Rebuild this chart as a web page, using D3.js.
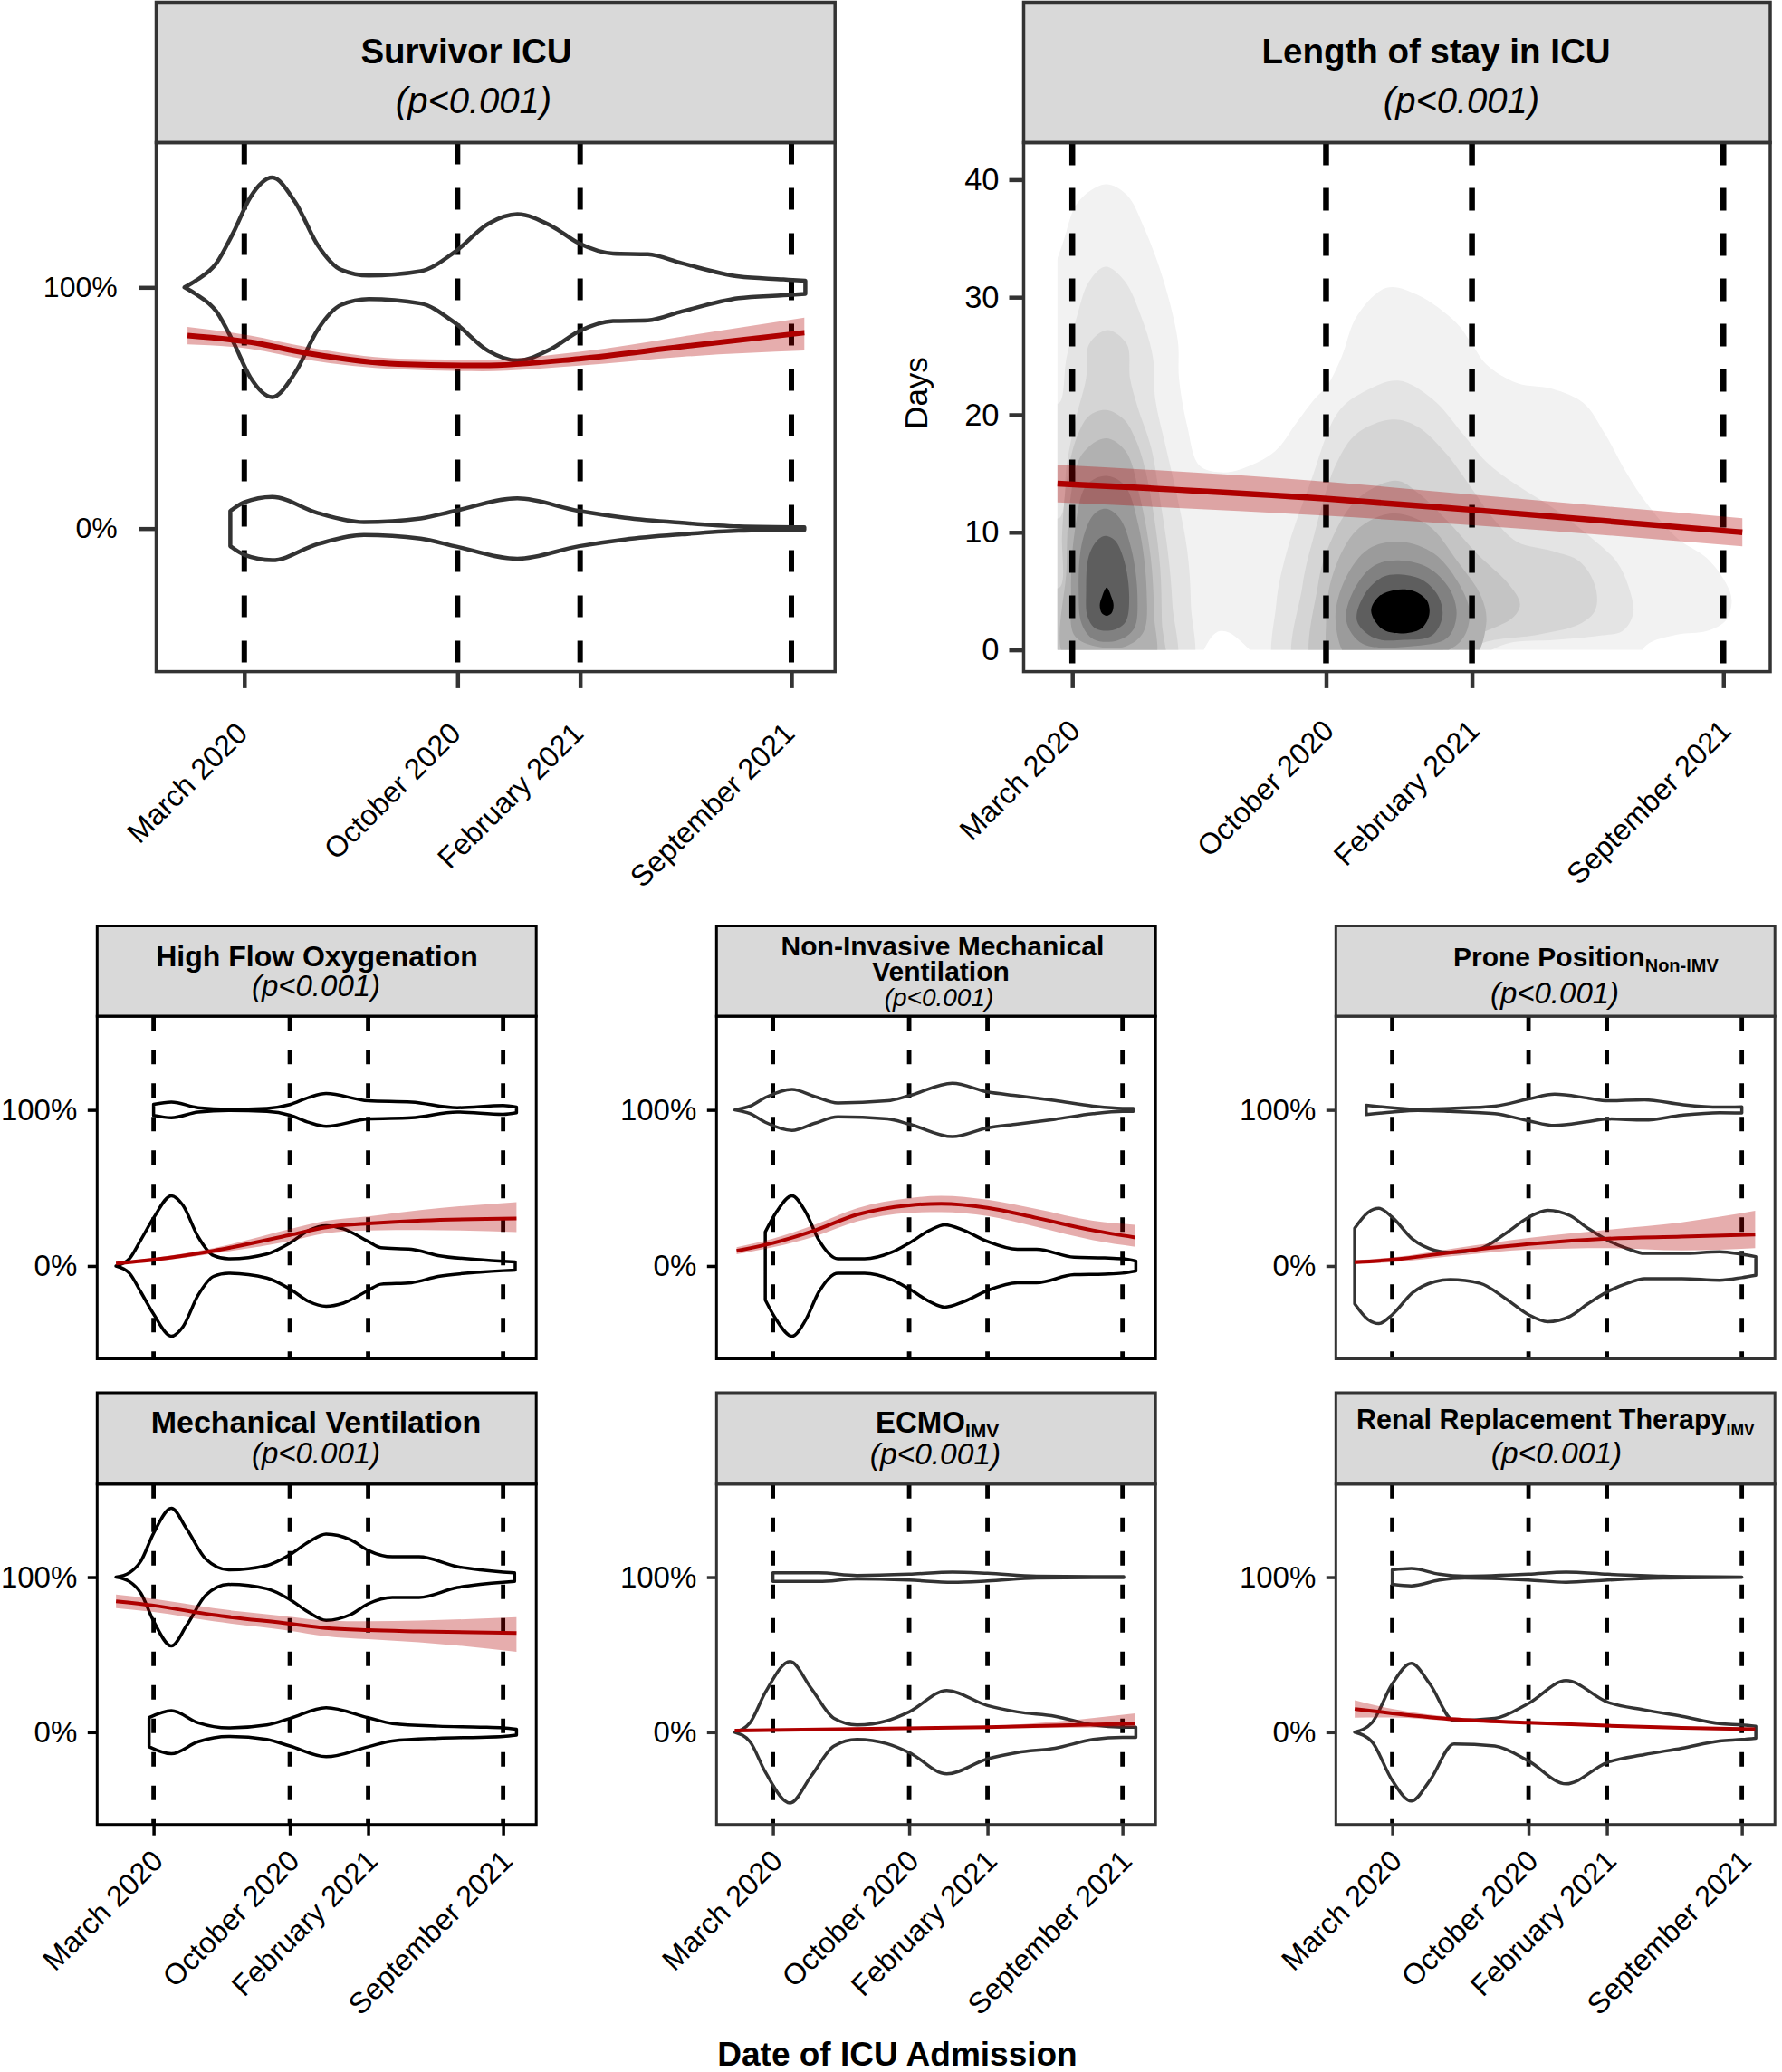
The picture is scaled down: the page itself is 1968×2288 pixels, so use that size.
<!DOCTYPE html>
<html>
<head>
<meta charset="utf-8">
<title>ICU outcomes by date of admission</title>
<script src="https://cdn.jsdelivr.net/npm/d3@7"></script>
<style>
  body { margin: 0; background: #fff; }
  svg text { font-family: "Liberation Sans", Arial, Helvetica, sans-serif; }
</style>
</head>
<body>
<script>
// every date below is stored as days after 1 March 2020
var tickDays = [0, 214, 337, 549];
var tickLabels = ["March 2020", "October 2020", "February 2021", "September 2021"];

// violin outlines, [day, half width] (half width in outcome units, 1 = 0%->100%)
var survivorYes = [[-60,0],[-49,0.027],[-28,0.10],[-11,0.227],[6,0.373],[28,0.455],[51,0.354],[74,0.173],[97,0.073],[125,0.049],[177,0.067],[211,0.146],[245,0.264],[274,0.303],[308,0.255],[336,0.182],[370,0.14],[405,0.137],[439,0.10],[496,0.045],[541,0.033],[563,0.027]];
var survivorNo = [[-14,0.073],[0,0.109],[28,0.131],[74,0.064],[120,0.027],[177,0.042],[211,0.073],[274,0.125],[336,0.073],[382,0.045],[439,0.024],[496,0.009],[562,0.005]];
var hfoYes = [[0,0.035],[28,0.05],[70,0.014],[118,0.004],[178,0.01],[214,0.034],[244,0.08],[271,0.105],[337,0.058],[405,0.05],[477,0.014],[549,0.028],[570,0.018]];
var hfoNo = [[-59,0],[-38,0.046],[-20,0.167],[0,0.308],[28,0.45],[46,0.39],[70,0.187],[94,0.067],[118,0.046],[178,0.077],[214,0.147],[244,0.228],[271,0.258],[298,0.238],[337,0.157],[357,0.117],[405,0.107],[447,0.067],[513,0.04],[549,0.03],[568,0.026]];
var nimvYes = [[-60,0],[-36,0.024],[-12,0.079],[30,0.131],[66,0.085],[102,0.044],[180,0.058],[214,0.091],[282,0.171],[337,0.115],[384,0.091],[443,0.06],[503,0.024],[549,0.01],[566,0.01]];
var nimvNo = [[-12,0.218],[6,0.349],[30,0.45],[51,0.349],[72,0.167],[102,0.046],[144,0.046],[186,0.087],[214,0.147],[246,0.228],[270,0.264],[300,0.228],[337,0.157],[384,0.107],[414,0.107],[473,0.056],[521,0.052],[549,0.046],[570,0.032]];
var proneYes = [[-41,0.03],[0,0.014],[40,0.004],[91,0.01],[161,0.024],[214,0.07],[255,0.10],[308,0.075],[338,0.058],[396,0.065],[455,0.034],[514,0.018],[549,0.02]];
var proneNo = [[-59,0.242],[-38,0.343],[-21,0.369],[0,0.312],[32,0.171],[67,0.1],[91,0.087],[138,0.111],[179,0.212],[214,0.312],[244,0.357],[279,0.323],[308,0.24],[338,0.165],[370,0.11],[396,0.081],[455,0.081],[514,0.091],[549,0.075],[571,0.06]];
var mvYes = [[-59,0],[-38,0.028],[-20,0.103],[0,0.283],[28,0.444],[52,0.311],[82,0.117],[118,0.047],[178,0.075],[214,0.144],[244,0.228],[271,0.278],[309,0.242],[337,0.172],[375,0.131],[417,0.131],[477,0.067],[513,0.047],[549,0.033],[567,0.028]];
var mvNo = [[-7,0.094],[28,0.139],[70,0.061],[118,0.028],[178,0.047],[214,0.089],[271,0.158],[337,0.094],[375,0.056],[447,0.039],[513,0.033],[549,0.028],[570,0.019]];
var ecmoYes = [[0,0.028],[72,0.028],[132,0.011],[214,0.019],[282,0.033],[337,0.025],[414,0.006],[503,0.003],[551,0.003]];
var ecmoNo = [[-60,0],[-36,0.061],[-12,0.256],[27,0.456],[60,0.283],[96,0.089],[132,0.047],[180,0.075],[214,0.131],[273,0.269],[337,0.172],[384,0.131],[443,0.103],[503,0.047],[549,0.033],[570,0.033]];
var rrtYes = [[0,0.047],[30,0.056],[74,0.019],[114,0.006],[214,0.019],[273,0.033],[338,0.019],[426,0.006],[549,0.001]];
var rrtNo = [[-59,0],[-32,0.061],[0,0.311],[30,0.444],[59,0.311],[97,0.075],[161,0.089],[214,0.186],[273,0.333],[338,0.194],[396,0.144],[455,0.103],[514,0.056],[549,0.047],[571,0.039]];

// smoothed trend with its band, [day, fit, low, high]
var survivorFit = [[-57,0.80,0.764,0.836],[6,0.773,0.745,0.80],[63,0.727,0.70,0.752],[154,0.682,0.66,0.705],[239,0.676,0.652,0.70],[336,0.704,0.675,0.733],[439,0.754,0.712,0.796],[562,0.812,0.738,0.874]];
var hfoFit = [[-59,0.016,0.008,0.024],[0,0.04,0.028,0.052],[94,0.097,0.08,0.114],[214,0.198,0.16,0.236],[271,0.248,0.21,0.29],[337,0.272,0.228,0.318],[422,0.292,0.23,0.36],[570,0.304,0.218,0.409]];
var nimvFit = [[-57,0.097,0.075,0.12],[0,0.147,0.12,0.175],[66,0.228,0.19,0.265],[132,0.329,0.285,0.37],[214,0.389,0.34,0.435],[264,0.399,0.345,0.45],[337,0.373,0.32,0.425],[414,0.308,0.25,0.365],[503,0.228,0.165,0.29],[569,0.183,0.123,0.264]];
var proneFit = [[-59,0.024,0.012,0.036],[0,0.04,0.025,0.055],[100,0.091,0.065,0.115],[214,0.141,0.105,0.18],[338,0.175,0.115,0.232],[455,0.188,0.1,0.28],[570,0.202,0.115,0.353]];
var mvFit = [[-59,0.844,0.80,0.888],[0,0.817,0.775,0.86],[94,0.756,0.715,0.80],[214,0.70,0.655,0.745],[270,0.672,0.62,0.72],[337,0.658,0.6,0.715],[417,0.65,0.58,0.72],[570,0.639,0.519,0.742]];
var ecmoFit = [[-60,0.011,0.006,0.016],[337,0.033,0.025,0.041],[569,0.056,0.033,0.122]];
var rrtFit = [[-59,0.15,0.094,0.206],[0,0.122,0.095,0.15],[97,0.083,0.07,0.096],[214,0.061,0.052,0.07],[338,0.042,0.034,0.05],[455,0.028,0.02,0.036],[570,0.019,0.01,0.03]];

// length of stay: linear trend [day, fit, low, high] in days
var losFit = [[-12.5,14.15,12.55,15.75],[215,12.85,11.4,14.3],[338,11.9,10.6,13.2],[565,10.0,8.8,11.2]];
var losTicks = [0, 10, 20, 30, 40];

// filled 2-D density of stay vs date, light to dark
var densityFills = ["#f2f2f2","#e4e4e4","#d5d5d5","#c4c4c4","#b1b1b1","#9b9b9b","#818181","#5e5e5e","#000000"];
// [fill level, outline of [day, days in ICU]]
var densityRings = [
  [0, [[-20,-3],[-20,30],[-7,34.9],[5,38.1],[28,39.6],[46,38.7],[61,35.8],[77,31.4],[89,26.3],[90,23.1],[97,19],[107,15.7],[125,15.1],[143,15.4],[171,16.9],[189,19.3],[204,21.3],[215,22.5],[227,24.9],[240,28.4],[265,30.8],[291,30.2],[324,27.8],[337,26],[349,24.3],[375,22.7],[405,22.2],[431,21],[449,18.4],[467,15.1],[484,12.5],[510,9.5],[535,7.8],[551,5.7],[556,4.2],[551,2.5],[535,1.6],[510,1.3],[484,0.4],[470,-2],[180,-2],[125,1.6],[95,-2]]],
  [1, [[-20,-2],[-20,21],[-11,21],[-4.8,24.9],[4,28.4],[14,31.3],[28,32.6],[44,31.4],[59,28.1],[68,24.9],[70,21.3],[79,17.2],[89,12.8],[97,8.4],[100,3.9],[98,-2]]],
  [1, [[173,-2],[172,3.9],[181,8.4],[201,14.3],[224,20.2],[245,21.9],[275,22.9],[304,21.3],[329,18.4],[349,16],[375,14],[408,11.9],[438,9.5],[459,7.5],[469,5.4],[473,3.1],[464,1.6],[444,1.2],[408,0.85],[367,0.55],[332,-1],[250,-2]]],
  [2, [[-20,-2],[-20,11],[-10,11.3],[-4.8,15.7],[2.8,19.6],[11.7,23.1],[14.2,26],[29.6,27.2],[46,26],[48.7,23.1],[55,20.7],[66.5,17.2],[74,12.8],[80.5,8.4],[84.4,3.9],[84.4,-2]]],
  [2, [[190,-2],[194,5.4],[204,9.8],[222,15.7],[240,18.4],[270,19.6],[291,19],[316,16.6],[337,13.7],[354,11.3],[375,9.2],[405,8.4],[428,7.5],[441,5.4],[441,3.4],[428,2.2],[393,1.3],[342,0.4],[320,-2]]],
  [3, [[-20,-2],[-20,5],[-9.9,5.4],[-8.6,9.8],[-4.8,14.3],[2.8,17.8],[14.2,19.9],[28.3,20.4],[43.6,19.6],[53.8,17.8],[61.4,15.4],[69,11.3],[74.2,6.9],[75.5,2.5],[75.5,-2]]],
  [3, [[205,-2],[207,5.4],[217,9],[240,12.8],[273,14.4],[291,13.4],[316,11],[342,8.1],[367,5.7],[377.5,3.9],[372,2.8],[349,1.6],[316,0.4],[300,-2]]],
  [4, [[-4.8,-1],[-4.8,7],[-2,12.5],[8,16.6],[28.3,18],[45,16.9],[57,13],[66,8],[69,3],[68,-1]]],
  [4, [[214,2.5],[220,6.5],[240,10.2],[270,11.6],[300,10.6],[325,7.5],[345,4.5],[349,2.2],[335,-1],[220,-1]]],
  [5, [[-1,5],[2,10],[12,14],[28.3,14.8],[44,14],[56,10.5],[62.7,5],[60,1.5],[45,0.3],[20,0.3],[2,1.2]]],
  [5, [[222,2.5],[230,6],[250,8.6],[277,9.2],[305,8.2],[325,5.8],[335,3.2],[328,0.8],[290,-1],[235,-1]]],
  [6, [[5.4,5],[8,9],[18,11.5],[28.3,12],[40,11.2],[50,8.5],[55,4.5],[52,1.8],[38,0.8],[18,0.9],[8,2.2]]],
  [6, [[231,2.5],[238,5.2],[255,7.2],[277,7.6],[300,7.0],[318,5.2],[324,3.0],[316,1.0],[285,0.3],[245,0.5]]],
  [7, [[11.7,5],[14,8],[22,9.4],[28.3,9.7],[36,9.3],[44,7.5],[48,4.5],[45,2.4],[35,1.7],[20,1.8],[13,2.8]]],
  [7, [[240,2.5],[247,4.8],[262,6.2],[278,6.4],[296,5.9],[309,4.5],[312,2.8],[303,1.2],[280,0.85],[255,1.0]]],
  [8, [[29,5.3],[33,4.5],[34.8,3.8],[33,3.1],[29,2.9],[25,3.1],[23.2,3.8],[25,4.5]]],
  [8, [[252,3.3],[258,4.5],[272,5.1],[288,5.0],[299,4.2],[301,3.0],[294,1.8],[277,1.4],[261,1.8]]]
];

var W = 1968, H = 2288;
var base = Date.UTC(2020, 2, 1);
function toDate(d) { return new Date(base + d * 864e5); }

var svg = d3.select("body").append("svg")
    .attr("width", W)
    .attr("height", H);
svg.append("rect").attr("width", W).attr("height", H).attr("fill", "#fff");
var defs = svg.append("defs");

var RED = "#ae0000";

// styles of the two big panels and the six small ones
var topStyle = {stripTop: 2.5, top: 157.5, bottom: 741.6, borderW: 3.5, ink: "#333", dashW: 6, dash: "24,26",
    violinW: 4.5, lineW: 6, yFont: 32, yTick: 18.8, yPad: 24, tickW: 4.5,
    xFont: 32.5, xTick: 18.3, xdx: 5, xdy: 70};
var losStyle = Object.assign({}, topStyle, {dashW: 6.5, dash: "25,25", lineW: 6.5, yFont: 34.5, yTick: 16, yPad: 11, xdx: 10, xdy: 67});
var rowBox = [{stripTop: 1022.5, top: 1122.2, bottom: 1500.5}, {stripTop: 1538, top: 1638.8, bottom: 2014.7}];
var colLeft = [107.3, 791.3, 1475.3], colWidth = 484.9;
var smallStyle = {borderW: 3, dashW: 4.8, dash: "16,21", violinW: 3.5, lineW: 4, yFont: 33, yTick: 10.5, yPad: 11.5,
    tickW: 3.5, xFont: 32.5, xTick: 12, xdx: 12, xdy: 42};

function stripText(g, lines) {
    lines.forEach(function(l) {
        var t = g.append("text")
            .attr("x", l.x).attr("y", l.y)
            .attr("text-anchor", l.anchor || "middle")
            .attr("font-size", l.size)
            .attr("font-weight", l.bold ? "bold" : null)
            .attr("font-style", l.italic ? "italic" : null)
            .attr("fill", "#000");
        t.append("tspan").text(l.text);
        if (l.sub) {
            t.append("tspan").attr("dy", l.subDy).attr("font-size", l.subSize).text(l.sub);
        }
    });
}

function strip(g, x0, x1, st, lines) {
    g.append("rect")
        .attr("x", x0).attr("y", st.stripTop)
        .attr("width", x1 - x0).attr("height", st.top - st.stripTop)
        .attr("fill", "#d9d9d9")
        .attr("stroke", st.ink).attr("stroke-width", st.borderW);
    stripText(g, lines);
}

function border(g, x0, x1, st) {
    g.append("rect")
        .attr("x", x0).attr("y", st.top)
        .attr("width", x1 - x0).attr("height", st.bottom - st.top)
        .attr("fill", "none")
        .attr("stroke", st.ink).attr("stroke-width", st.borderW);
}

function dashes(g, x, st) {
    g.selectAll(null).data(tickDays).enter().append("line")
        .attr("x1", function(d) { return x(toDate(d)); })
        .attr("x2", function(d) { return x(toDate(d)); })
        .attr("y1", st.top).attr("y2", st.bottom)
        .attr("stroke", "#000")
        .attr("stroke-width", st.dashW)
        .attr("stroke-dasharray", st.dash);
}

function yAxis(g, y, left, vals, fmt, st) {
    var ax = g.append("g")
        .attr("transform", "translate(" + left + ",0)")
        .call(d3.axisLeft(y).tickValues(vals).tickFormat(fmt).tickSize(st.yTick).tickPadding(st.yPad));
    ax.select(".domain").remove();
    ax.selectAll(".tick line").attr("stroke", st.ink).attr("stroke-width", st.tickW);
    ax.selectAll(".tick text").attr("font-size", st.yFont).attr("fill", "#000");
}

function xAxis(g, x, st) {
    var ax = g.append("g")
        .attr("transform", "translate(0," + st.bottom + ")")
        .call(d3.axisBottom(x)
            .tickValues(tickDays.map(toDate))
            .tickFormat(function(d, i) { return tickLabels[i]; })
            .tickSize(st.xTick));
    ax.select(".domain").remove();
    ax.selectAll(".tick line").attr("stroke", st.ink).attr("stroke-width", st.tickW);
    ax.selectAll(".tick text")
        .attr("y", null).attr("dy", null)
        .attr("text-anchor", "end")
        .attr("font-size", st.xFont)
        .attr("fill", "#000")
        .attr("transform", "translate(" + st.xdx + "," + st.xdy + ") rotate(-45)");
}

function violins(g, x, y, yes, no, st, yesInk, noInk) {
    function shape(centre) {
        return d3.area()
            .x(function(d) { return x(toDate(d[0])); })
            .y0(function(d) { return y(centre - d[1]); })
            .y1(function(d) { return y(centre + d[1]); })
            .curve(d3.curveMonotoneX);
    }
    g.append("path").attr("d", shape(1)(yes))
        .attr("fill", "none").attr("stroke", yesInk).attr("stroke-width", st.violinW).attr("stroke-linejoin", "round");
    g.append("path").attr("d", shape(0)(no))
        .attr("fill", "none").attr("stroke", noInk).attr("stroke-width", st.violinW).attr("stroke-linejoin", "round");
}

function trend(g, x, y, rows, st) {
    g.append("path").datum(rows)
        .attr("d", d3.area()
            .x(function(d) { return x(toDate(d[0])); })
            .y0(function(d) { return y(d[2]); })
            .y1(function(d) { return y(d[3]); })
            .curve(d3.curveMonotoneX))
        .attr("fill", "#b20000").attr("fill-opacity", 0.32);
    g.append("path").datum(rows)
        .attr("d", d3.line()
            .x(function(d) { return x(toDate(d[0])); })
            .y(function(d) { return y(d[1]); })
            .curve(d3.curveMonotoneX))
        .attr("fill", "none").attr("stroke", RED).attr("stroke-width", st.lineW);
}

var pct = d3.format(".0%");

// ---- Survivor ICU ----
(function() {
    var st = topStyle, x0 = 172.5, x1 = 922.2;
    var g = svg.append("g");
    var x = d3.scaleUtc().domain([toDate(-88.4), toDate(592.8)]).range([x0, x1]);
    var y = d3.scaleLinear().domain([-0.593, 1.6]).range([st.bottom, st.top]);
    strip(g, x0, x1, st, [
        {x: 515, y: 70, size: 38.5, bold: true, text: "Survivor ICU"},
        {x: 523, y: 125, size: 40, italic: true, text: "(p<0.001)"}
    ]);
    dashes(g, x, st);
    violins(g, x, y, survivorYes, survivorNo, st, "#333", "#333");
    trend(g, x, y, survivorFit, st);
    border(g, x0, x1, st);
    yAxis(g, y, x0, [0, 1], pct, st);
    xAxis(g, x, st);
})();

// ---- Length of stay in ICU ----
(function() {
    var st = losStyle, x0 = 1130.5, x1 = 1955;
    var g = svg.append("g");
    var x = d3.scaleUtc().domain([toDate(-41), toDate(588.5)]).range([x0, x1]);
    var y = d3.scaleLinear().domain([-1.85, 43.15]).range([st.bottom, st.top]);
    strip(g, x0, x1, st, [
        {x: 1586, y: 70, size: 38.5, bold: true, text: "Length of stay in ICU"},
        {x: 1614, y: 125, size: 40, italic: true, text: "(p<0.001)"}
    ]);
    defs.append("clipPath").attr("id", "losClip").append("rect")
        .attr("x", x(toDate(-12.5))).attr("y", y(45))
        .attr("width", x(toDate(600)) - x(toDate(-12.5)))
        .attr("height", y(0) - y(45));
    var ring = d3.line()
        .x(function(d) { return x(toDate(d[0])); })
        .y(function(d) { return y(d[1]); })
        .curve(d3.curveCatmullRomClosed.alpha(0.5));
    g.append("g").attr("clip-path", "url(#losClip)")
        .selectAll("path").data(densityRings).enter().append("path")
        .attr("d", function(d) { return ring(d[1]); })
        .attr("fill", function(d) { return densityFills[d[0]]; });
    dashes(g, x, st);
    trend(g, x, y, losFit, st);
    border(g, x0, x1, st);
    yAxis(g, y, x0, losTicks, d3.format("d"), st);
    xAxis(g, x, st);
    g.append("text")
        .attr("transform", "translate(1012,434) rotate(-90)")
        .attr("text-anchor", "middle").attr("dy", "0.35em")
        .attr("font-size", 35).attr("fill", "#000")
        .text("Days");
})();

// ---- six small panels ----
var smallPanels = [
    {col: 0, row: 0, yes: hfoYes, no: hfoNo, fit: hfoFit, ink: "#000", yesInk: "#000", noInk: "#000", lines: [
        {x: 350, y: 1067, size: 32, bold: true, text: "High Flow Oxygenation"},
        {x: 349, y: 1100, size: 33, italic: true, text: "(p<0.001)"}]},
    {col: 1, row: 0, yes: nimvYes, no: nimvNo, fit: nimvFit, ink: "#000", yesInk: "#333", noInk: "#000", lines: [
        {x: 1041, y: 1055, size: 30, bold: true, text: "Non-Invasive Mechanical"},
        {x: 1039, y: 1083, size: 30, bold: true, text: "Ventilation"},
        {x: 1037, y: 1111, size: 28, italic: true, text: "(p<0.001)"}]},
    {col: 2, row: 0, yes: proneYes, no: proneNo, fit: proneFit, ink: "#333", yesInk: "#333", noInk: "#333", lines: [
        {x: 1605, y: 1067, size: 30, bold: true, anchor: "start", text: "Prone Position", sub: "Non-IMV", subSize: 20, subDy: 6},
        {x: 1717, y: 1108, size: 33, italic: true, text: "(p<0.001)"}]},
    {col: 0, row: 1, yes: mvYes, no: mvNo, fit: mvFit, ink: "#000", yesInk: "#000", noInk: "#000", lines: [
        {x: 349, y: 1582, size: 34, bold: true, text: "Mechanical Ventilation"},
        {x: 349, y: 1616, size: 33, italic: true, text: "(p<0.001)"}]},
    {col: 1, row: 1, yes: ecmoYes, no: ecmoNo, fit: ecmoFit, ink: "#333", yesInk: "#333", noInk: "#333", lines: [
        {x: 967, y: 1582, size: 33, bold: true, anchor: "start", text: "ECMO", sub: "IMV", subSize: 21, subDy: 5},
        {x: 1033, y: 1617, size: 33.5, italic: true, text: "(p<0.001)"}]},
    {col: 2, row: 1, yes: rrtYes, no: rrtNo, fit: rrtFit, ink: "#333", yesInk: "#333", noInk: "#333", lines: [
        {x: 1498, y: 1578, size: 30.5, bold: true, anchor: "start", text: "Renal Replacement Therapy", sub: "IMV", subSize: 17.5, subDy: 7},
        {x: 1719, y: 1616, size: 33.5, italic: true, text: "(p<0.001)"}]}
];

smallPanels.forEach(function(p) {
    var st = Object.assign({}, smallStyle, rowBox[p.row], {ink: p.ink});
    var x0 = colLeft[p.col], x1 = x0 + colWidth;
    var g = svg.append("g");
    var x = d3.scaleUtc().domain([toDate(-88.6), toDate(601)]).range([x0, x1]);
    var y = d3.scaleLinear().domain([-0.595, 1.6]).range([st.bottom, st.top]);
    strip(g, x0, x1, st, p.lines);
    dashes(g, x, st);
    violins(g, x, y, p.yes, p.no, st, p.yesInk, p.noInk);
    trend(g, x, y, p.fit, st);
    border(g, x0, x1, st);
    yAxis(g, y, x0, [0, 1], pct, st);
    if (p.row === 1) xAxis(g, x, st);
});

svg.append("text")
    .attr("x", 991).attr("y", 2281)
    .attr("text-anchor", "middle")
    .attr("font-size", 37).attr("font-weight", "bold").attr("fill", "#000")
    .text("Date of ICU Admission");
</script>
</body>
</html>
